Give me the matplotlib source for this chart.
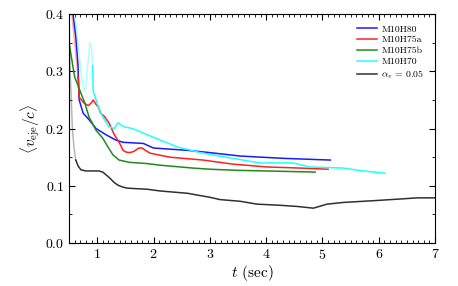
import matplotlib
matplotlib.use("Agg")
import matplotlib.pyplot as plt
from matplotlib.ticker import MultipleLocator

plt.rcParams['font.family'] = 'serif'
plt.rcParams['font.serif'] = ['cmr10', 'DejaVu Serif']
plt.rcParams['mathtext.fontset'] = 'cm'
plt.rcParams['axes.formatter.use_mathtext'] = True

labels = ['M10H80', 'M10H75a', 'M10H75b', 'M10H70', r'$\alpha_v$ = 0.05']
colors = ['#1a1aff', '#ff2020', '#208a20', '#20ffff', '#303030']

# faded early segments
blue_t_f = []
blue_v_f = []
blue_t = [0.57, 0.62, 0.66, 0.68, 0.75, 0.86, 0.98, 1.16, 1.33, 1.46, 1.82, 2.0, 2.6, 3.0, 3.54, 4.3, 5.14]
blue_v = [0.40, 0.36, 0.31, 0.25, 0.227, 0.215, 0.2, 0.189, 0.18, 0.176, 0.174, 0.166, 0.162, 0.158, 0.152, 0.148, 0.145]

red_t_f = [0.55, 0.60, 0.66]
red_v_f = [0.40, 0.35, 0.29]
red_t = [0.66, 0.68, 0.76, 0.84, 0.9, 0.93, 0.98, 1.02, 1.06, 1.12, 1.21, 1.3, 1.39, 1.46, 1.51, 1.58, 1.65, 1.74, 1.8, 1.87, 1.94, 2.29, 2.88, 3.4, 4.0, 4.6, 5.1]
red_v = [0.29, 0.255, 0.245, 0.24, 0.245, 0.25, 0.242, 0.238, 0.227, 0.222, 0.21, 0.19, 0.176, 0.162, 0.159, 0.158, 0.16, 0.166, 0.166, 0.161, 0.157, 0.150, 0.145, 0.138, 0.133, 0.131, 0.129]

green_t_f = []
green_v_f = []
green_t = [0.5, 0.55, 0.6, 0.66, 0.71, 0.78, 0.855, 0.98, 1.1, 1.19, 1.28, 1.39, 1.57, 1.87, 2.12, 2.7, 3.0, 3.5, 4.0, 4.87]
green_v = [0.35, 0.32, 0.29, 0.275, 0.262, 0.245, 0.22, 0.197, 0.183, 0.168, 0.154, 0.145, 0.141, 0.139, 0.136, 0.131, 0.129, 0.127, 0.126, 0.124]

cyan_t_f = [0.6, 0.65, 0.7, 0.74, 0.77, 0.8, 0.84, 0.87, 0.9, 0.92]
cyan_v_f = [0.40, 0.36, 0.31, 0.28, 0.265, 0.275, 0.32, 0.35, 0.34, 0.31]
cyan_t = [0.92, 0.93, 1.02, 1.1, 1.21, 1.3, 1.37, 1.48, 1.63, 1.87, 2.12, 2.42, 2.83, 3.41, 3.89, 4.48, 4.78, 5.37, 5.72, 6.11]
cyan_v = [0.31, 0.265, 0.238, 0.22, 0.203, 0.2, 0.21, 0.203, 0.2, 0.19, 0.18, 0.168, 0.158, 0.148, 0.14, 0.14, 0.133, 0.131, 0.126, 0.122]

black_t_f = [0.5, 0.52, 0.54, 0.56, 0.59, 0.62]
black_v_f = [0.40, 0.30, 0.25, 0.20, 0.165, 0.145]
black_t = [0.62, 0.66, 0.71, 0.8, 0.9, 1.03, 1.1, 1.16, 1.23, 1.3, 1.37, 1.45, 1.53, 1.7, 1.89, 2.12, 2.6, 3.0, 3.18, 3.54, 3.84, 4.25, 4.55, 4.84, 5.08, 5.37, 5.9, 6.38, 6.68, 7.0]
black_v = [0.145, 0.135, 0.128, 0.126, 0.126, 0.126, 0.124, 0.119, 0.113, 0.106, 0.101, 0.098, 0.096, 0.095, 0.094, 0.091, 0.087, 0.08, 0.076, 0.073, 0.068, 0.066, 0.064, 0.061, 0.068, 0.071, 0.074, 0.077, 0.079, 0.079]

series = [
    (blue_t_f, blue_v_f, blue_t, blue_v),
    (red_t_f, red_v_f, red_t, red_v),
    (green_t_f, green_v_f, green_t, green_v),
    (cyan_t_f, cyan_v_f, cyan_t, cyan_v),
    (black_t_f, black_v_f, black_t, black_v),
]

fig = plt.figure(figsize=(4.58, 2.86), dpi=100)
ax = fig.add_axes([0.1507, 0.150, 0.7993, 0.801])

for (tf, vf, t, v), c, lab in zip(series, colors, labels):
    if tf:
        ax.plot(tf, vf, color=c, lw=1.1, alpha=0.35)
    ax.plot(t, v, color=c, lw=1.1, label=lab)

ax.set_xlim(0.5, 7)
ax.set_ylim(0, 0.4)
ax.xaxis.set_major_locator(MultipleLocator(1))
ax.xaxis.set_minor_locator(MultipleLocator(0.1))
ax.yaxis.set_major_locator(MultipleLocator(0.1))
ax.yaxis.set_minor_locator(MultipleLocator(0.05))
ax.tick_params(which='both', direction='in', top=True, right=True, labelsize=10)
ax.tick_params(which='major', length=4)
ax.tick_params(which='minor', length=2)
ax.set_xlabel(r'$t$ (sec)', fontsize=11, labelpad=1)
ax.set_ylabel(r'$\langle v_{\rm eje}/c\rangle$', fontsize=11, labelpad=2)

leg = ax.legend(loc='upper right', fontsize=7, frameon=False, handlelength=2.0,
                handletextpad=0.5, labelspacing=0.22, borderaxespad=0.7)

fig.savefig('out.png', dpi=100)
